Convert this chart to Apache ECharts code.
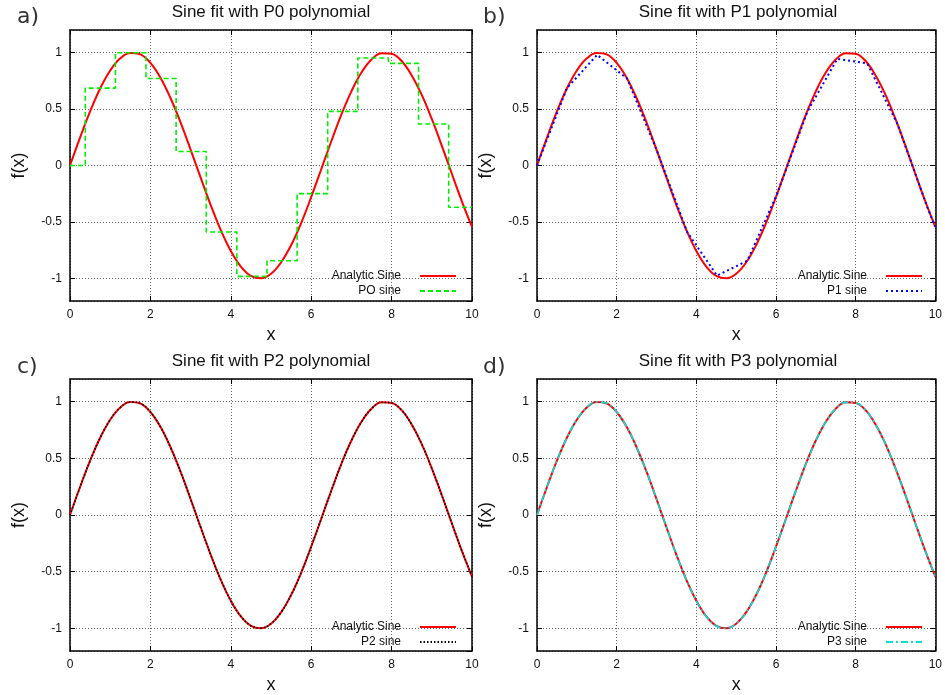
<!DOCTYPE html>
<html>
<head>
<meta charset="utf-8">
<script src="https://cdn.jsdelivr.net/npm/echarts@6/dist/echarts.min.js"></script>
<style>
  html, body { margin: 0; padding: 0; background: #fff; }
  #chart { width: 945px; height: 695px; }
</style>
</head>
<body>
<div id="chart"></div>
<script>
// ---------- data ----------
const panelLetters = ['a)', 'b)', 'c)', 'd)'];
const panelTitles = ['Sine fit with P0 polynomial', 'Sine fit with P1 polynomial',
                     'Sine fit with P2 polynomial', 'Sine fit with P3 polynomial'];
const fitNames = ['PO sine', 'P1 sine', 'P2 sine', 'P3 sine'];
const analyticName = 'Analytic Sine';

// analytic sine sampled every 0.25
const sineX = [0, 0.25, 0.5, 0.75, 1, 1.25, 1.5, 1.75, 2, 2.25, 2.5, 2.75, 3, 3.25, 3.5, 3.75,
  4, 4.25, 4.5, 4.75, 5, 5.25, 5.5, 5.75, 6, 6.25, 6.5, 6.75, 7, 7.25, 7.5, 7.75,
  8, 8.25, 8.5, 8.75, 9, 9.25, 9.5, 9.75, 10];
const sineY = [0, 0.247, 0.479, 0.682, 0.841, 0.949, 0.997, 0.984, 0.909, 0.778, 0.598, 0.382,
  0.141, -0.108, -0.351, -0.572, -0.757, -0.895, -0.978, -0.999, -0.959, -0.859, -0.706,
  -0.510, -0.279, -0.033, 0.215, 0.451, 0.657, 0.823, 0.938, 0.994, 0.989, 0.925, 0.798,
  0.625, 0.412, 0.174, -0.075, -0.319, -0.544];

// P0: piecewise constant steps (start of each step, value)
const p0X = [0, 0.38, 1.13, 1.89, 2.64, 3.39, 4.15, 4.90, 5.65, 6.41, 7.16, 7.92, 8.67, 9.42, 10];
const p0Y = [0, 0.685, 0.998, 0.771, 0.124, -0.589, -0.982, -0.844, -0.249, 0.479, 0.952,
  0.904, 0.367, -0.370, -0.370];

// P1: piecewise linear nodes
const p1X = [0, 0.75, 1.51, 2.26, 3.02, 3.77, 4.52, 5.28, 6.03, 6.79, 7.54, 8.29, 9.05, 9.80, 10];
const p1Y = [0, 0.685, 0.980, 0.771, 0.124, -0.589, -0.975, -0.844, -0.249, 0.479, 0.945,
  0.904, 0.367, -0.370, -0.544];

// P2, P3: nearly identical to the analytic sine
const p2Y = [0, 0.246, 0.478, 0.681, 0.841, 0.948, 0.996, 0.984, 0.908, 0.777, 0.597, 0.381,
  0.140, -0.108, -0.350, -0.571, -0.756, -0.894, -0.977, -0.998, -0.958, -0.858, -0.705,
  -0.509, -0.278, -0.033, 0.214, 0.450, 0.656, 0.822, 0.937, 0.993, 0.988, 0.924, 0.797,
  0.624, 0.411, 0.173, -0.075, -0.318, -0.543];
const p3Y = [0, 0.247, 0.479, 0.682, 0.841, 0.949, 0.997, 0.985, 0.909, 0.778, 0.598, 0.382,
  0.141, -0.108, -0.351, -0.572, -0.757, -0.895, -0.979, -1.000, -0.959, -0.859, -0.706,
  -0.510, -0.279, -0.033, 0.215, 0.451, 0.657, 0.823, 0.938, 0.994, 0.989, 0.925, 0.798,
  0.625, 0.412, 0.174, -0.075, -0.319, -0.544];

const xMin = 0, xMax = 10, xInterval = 2;
const yMin = -1.2, yMax = 1.2;

// ---------- build ----------
const zip = (xs, ys) => xs.map((x, i) => [x, ys[i]]);
const FONT = '"Liberation Sans", Arial, Helvetica, sans-serif';

const grids = [
  { left: 70, top: 30, width: 402, height: 271 },
  { left: 537, top: 30, width: 402, height: 271 },
  { left: 70, top: 379, width: 402, height: 272 },
  { left: 537, top: 379, width: 402, height: 272 }
];

const xAxes = [], yAxes = [], series = [], legends = [], graphics = [];
const fitData = [zip(p0X, p0Y), zip(p1X, p1Y), zip(sineX, p2Y), zip(sineX, p3Y)];
const fitStyles = [
  { color: '#00ee00', width: 1.6, type: [5, 3] },
  { color: '#0000ff', width: 2, type: [2, 3] },
  { color: '#000000', width: 1.6, type: [1.5, 2] },
  { color: '#00dddd', width: 1.6, type: [7, 3, 2, 3] }
];

grids.forEach((g, i) => {
  const tick = { show: true, inside: true, length: 5, lineStyle: { color: '#000', width: 1 } };
  const axLine = { show: true, onZero: false, lineStyle: { color: '#000', width: 1.5 } };
  const grid = { type: [1, 2], color: '#666', width: 1 };
  xAxes.push({
    type: 'value', gridIndex: i, min: xMin, max: xMax, interval: xInterval, position: 'bottom',
    axisLine: axLine, axisTick: tick,
    axisLabel: { color: '#111', fontSize: 12, fontFamily: FONT, margin: 8 },
    splitLine: { show: true, lineStyle: grid },
    name: 'x', nameLocation: 'middle', nameGap: 25,
    nameTextStyle: { color: '#111', fontSize: 18, fontFamily: FONT }
  });
  xAxes.push({
    type: 'value', gridIndex: i, min: xMin, max: xMax, interval: xInterval, position: 'top',
    axisLine: axLine, axisTick: tick, axisLabel: { show: false }, splitLine: { show: false }
  });
  yAxes.push({
    type: 'value', gridIndex: i, min: yMin, max: yMax, splitNumber: 5, position: 'left',
    axisLine: axLine, axisTick: tick,
    axisLabel: { color: '#111', fontSize: 12, fontFamily: FONT, margin: 8,
                 showMinLabel: false, showMaxLabel: false },
    splitLine: { show: true, lineStyle: grid },
    name: 'f(x)', nameLocation: 'middle', nameGap: 42, nameRotate: 90,
    nameTextStyle: { color: '#111', fontSize: 18, fontFamily: FONT }
  });
  yAxes.push({
    type: 'value', gridIndex: i, min: yMin, max: yMax, splitNumber: 5, position: 'right',
    axisLine: axLine, axisTick: tick, axisLabel: { show: false }, splitLine: { show: false }
  });

  series.push({
    name: analyticName, type: 'line', xAxisIndex: 2 * i, yAxisIndex: 2 * i,
    data: zip(sineX, sineY), smooth: 0.4, showSymbol: false, symbol: 'none',
    lineStyle: { color: '#ff0000', width: 2 }, itemStyle: { color: '#ff0000' },
    z: 2, animation: false
  });
  const fs = fitStyles[i];
  series.push({
    name: fitNames[i], type: 'line', xAxisIndex: 2 * i, yAxisIndex: 2 * i,
    data: fitData[i], smooth: i >= 2 ? 0.4 : false, step: i === 0 ? 'end' : false,
    showSymbol: false, symbol: 'none',
    lineStyle: { color: fs.color, width: fs.width, type: fs.type }, itemStyle: { color: fs.color },
    z: 3, animation: false
  });

  const isLeft = i % 2 === 0;
  const isTop = i < 2;
  legends.push({
    data: [analyticName, fitNames[i]], orient: 'vertical', align: 'right',
    right: isLeft ? 488 : 22, top: isTop ? 270 : 621,
    itemWidth: 36, itemHeight: 10, itemGap: 3, padding: 0,
    selectedMode: false,
    itemStyle: { color: 'rgba(0,0,0,0)', borderColor: 'rgba(0,0,0,0)', borderWidth: 0 },
    textStyle: { color: '#111', fontSize: 12, fontFamily: FONT, padding: [0, 14, 0, 0] }
  });

  const cx = g.left + g.width / 2;
  graphics.push({
    type: 'text', x: cx, y: isTop ? 12 : 361,
    style: { text: panelTitles[i], textAlign: 'center', textVerticalAlign: 'middle',
             font: '17px ' + FONT, fill: '#111' }
  });
  graphics.push({
    type: 'text', x: isLeft ? 17 : 483, y: isTop ? 17 : 367,
    style: { text: panelLetters[i], textAlign: 'left', textVerticalAlign: 'middle',
             font: '22px "DejaVu Sans", ' + FONT, fill: '#333' }
  });
});

const chart = echarts.init(document.getElementById('chart'), null, { renderer: 'canvas' });
chart.setOption({
  backgroundColor: '#fff',
  animation: false,
  grid: grids,
  xAxis: xAxes,
  yAxis: yAxes,
  legend: legends,
  series: series,
  graphic: graphics
});
</script>
</body>
</html>
